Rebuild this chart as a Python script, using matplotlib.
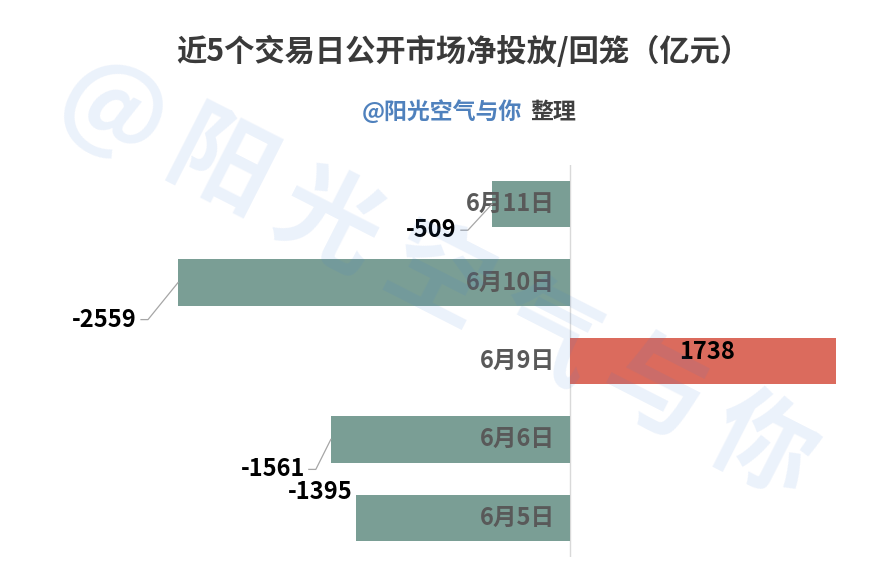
import matplotlib
matplotlib.use("Agg")
import matplotlib.pyplot as plt

plt.rcParams['font.family'] = ['Noto Sans CJK SC', 'DejaVu Sans']
plt.rcParams['axes.unicode_minus'] = False

# ---- data ----
categories = ['6月11日', '6月10日', '6月9日', '6月6日', '6月5日']
values = [-509, -2559, 1738, -1561, -1395]
title = '近5个交易日公开市场净投放/回笼（亿元）'
source = '@阳光空气与你'
source_suffix = '整理'

# ---- styles ----
GREEN = '#7A9E95'
RED = '#DB6B5D'
# data-label offsets (pixels, image orientation: +dy = down), leader flag
label_offsets = [(-35, 26, True), (-41, 37, True), (4, -9, False), (-26, 30, True), (-4, -26, False)]

W, H = 895, 575
fig = plt.figure(figsize=(W / 100, H / 100), dpi=100)
ax = fig.add_axes([178 / W, 18 / H, (836 - 178) / W, (557 - 165) / H])

n = len(categories)
ypos = list(range(n))
colors = [RED if v > 0 else GREEN for v in values]
ax.barh(ypos, values, height=0.59, color=colors, zorder=2)
ax.set_ylim(n - 0.5, -0.5)
ax.set_xlim(min(values), max(values))
ax.axvline(0, color='#D9D9D9', lw=1.0, zorder=1)
for s in ax.spines.values():
    s.set_visible(False)
ax.set_xticks([])
ax.set_yticks([])
ax.patch.set_alpha(0)

# category labels next to zero line
for y, c in zip(ypos, categories):
    ax.annotate(c, xy=(0, y), xytext=(-15, 0), textcoords='offset pixels',
                ha='right', va='center', fontsize=17, fontweight='bold',
                color='#595959', zorder=5, annotation_clip=False)

# value labels
for y, v, (dx, dy, leader) in zip(ypos, values, label_offsets):
    if v > 0:
        ax.annotate(f'{v}', xy=(v / 2, y), xytext=(dx, -dy), textcoords='offset pixels',
                    ha='center', va='center', fontsize=17, fontweight='bold',
                    color='black', zorder=5, annotation_clip=False)
        continue
    ax.annotate(f'{v}', xy=(v, y), xytext=(dx, -dy), textcoords='offset pixels',
                ha='right', va='center', fontsize=17, fontweight='bold',
                color='black', zorder=5, annotation_clip=False)
    if leader:
        px, py = ax.transData.transform((v, y))
        xs = [px + dx + 4, px + dx + 11, px]
        ys = [py - dy, py - dy, py]
        fig.add_artist(plt.Line2D([x / W for x in xs], [yy / H for yy in ys],
                                  transform=fig.transFigure, color='#A6A6A6', lw=0.9))

# titles
fig.text(463 / W, 1 - 52 / H, title, ha='center', va='center', fontsize=21.8,
         fontweight='bold', color='#3A3A3A')
fig.text(522 / W, 1 - 112 / H, source, ha='right', va='center', fontsize=16.5,
         fontweight='bold', color='#4F81BD')
fig.text(530 / W, 1 - 112 / H, source_suffix, ha='left', va='center', fontsize=16.5,
         fontweight='bold', color='#404040')

# watermark: characters spaced along a diagonal line
x0, y0, x1, y1 = 112, 112, 762, 448
k = len(source)
for i, ch in enumerate(source):
    t = i / (k - 1)
    cx = x0 + (x1 - x0) * t
    cy = y0 + (y1 - y0) * t
    fig.text(cx / W, 1 - cy / H, ch, ha='center', va='center', fontsize=74,
             rotation=-27, rotation_mode='anchor', color='#3B7DD8', alpha=0.1,
             fontweight='bold', zorder=10)

fig.savefig('out.png', dpi=100)
